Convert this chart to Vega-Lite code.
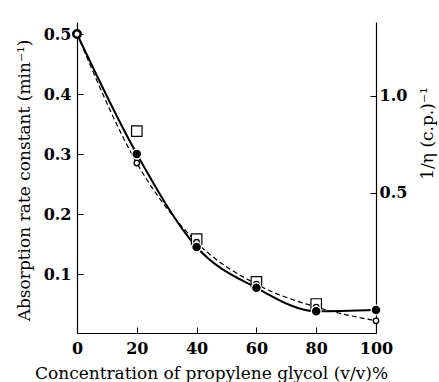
{
  "$schema": "https://vega.github.io/schema/vega-lite/v6.json",
  "width": 299,
  "height": 311,
  "autosize": {"type": "none"},
  "padding": {"left": 77, "top": 22, "right": 63, "bottom": 49},
  "config": {
    "view": {"stroke": null},
    "font": "DejaVu Serif",
    "axis": {
      "domainColor": "black",
      "domainWidth": 1.2,
      "tickColor": "black",
      "tickWidth": 1,
      "grid": false,
      "labelFont": "DejaVu Serif",
      "labelFontSize": 16,
      "labelFontWeight": "bold",
      "labelColor": "black",
      "titleFont": "DejaVu Serif",
      "titleFontSize": 17,
      "titleFontWeight": "normal",
      "titleColor": "black"
    }
  },
  "datasets": {
    "pts": [
      {"x": 0, "y": 0.5, "series": "filled"},
      {"x": 20, "y": 0.3, "series": "filled"},
      {"x": 40, "y": 0.145, "series": "filled"},
      {"x": 60, "y": 0.077, "series": "filled"},
      {"x": 80, "y": 0.038, "series": "filled"},
      {"x": 100, "y": 0.04, "series": "filled"},
      {"x": 20, "y": 0.338, "series": "square"},
      {"x": 40, "y": 0.158, "series": "square"},
      {"x": 60, "y": 0.087, "series": "square"},
      {"x": 80, "y": 0.05, "series": "square"},
      {"x": 0, "y": 0.5, "series": "open"},
      {"x": 20, "y": 0.285, "series": "open"},
      {"x": 40, "y": 0.153, "series": "open"},
      {"x": 60, "y": 0.083, "series": "open"},
      {"x": 80, "y": 0.045, "series": "open"},
      {"x": 100, "y": 0.022, "series": "open"}
    ],
    "right": [{"r": 0.5}, {"r": 1.0}]
  },
  "layer": [
    {
      "data": {"name": "pts"},
      "encoding": {
        "x": {
          "field": "x", "type": "quantitative",
          "scale": {"domain": [0, 100], "nice": false, "zero": false},
          "axis": {
            "values": [0, 20, 40, 60, 80, 100],
            "tickSize": -6,
            "labelPadding": 13,
            "labelFlush": false,
            "title": "Concentration of propylene glycol (v/v)%",
            "titlePadding": 9,
            "titleX": 134,
            "titleAnchor": "middle"
          }
        },
        "y": {
          "field": "y", "type": "quantitative",
          "scale": {"domain": [0.0017, 0.52], "nice": false, "zero": false},
          "axis": {
            "values": [0.1, 0.2, 0.3, 0.4, 0.5],
            "format": ".1f",
            "tickSize": -6,
            "labelPadding": 12,
            "title": "Absorption rate constant (min⁻¹)",
            "titlePadding": 10,
            "titleY": 158
          }
        }
      },
      "layer": [
        {
          "transform": [{"filter": "datum.series == 'filled'"}],
          "mark": {"type": "line", "interpolate": "monotone", "color": "black", "strokeWidth": 2}
        },
        {
          "transform": [{"filter": "datum.series == 'open'"}],
          "mark": {"type": "line", "interpolate": "monotone", "color": "black", "strokeWidth": 1.2, "strokeDash": [5, 3]}
        },
        {
          "transform": [{"filter": "datum.series == 'square'"}],
          "mark": {"type": "point", "shape": "square", "size": 110, "filled": true, "fill": "white", "stroke": "black", "strokeWidth": 1.2, "opacity": 1}
        },
        {
          "transform": [{"filter": "datum.series == 'open' && datum.x > 0"}],
          "mark": {"type": "point", "shape": "circle", "size": 30, "filled": true, "fill": "white", "stroke": "black", "strokeWidth": 1.3, "opacity": 1}
        },
        {
          "transform": [{"filter": "datum.series == 'open' && datum.x == 0"}],
          "mark": {"type": "point", "shape": "circle", "size": 55, "filled": true, "fill": "white", "stroke": "black", "strokeWidth": 2.6, "opacity": 1}
        },
        {
          "transform": [{"filter": "datum.series == 'filled' && datum.x > 0"}],
          "mark": {"type": "point", "shape": "circle", "size": 95, "filled": true, "fill": "black", "stroke": "white", "strokeWidth": 1.2, "opacity": 1}
        }
      ]
    },
    {
      "data": {"name": "right"},
      "mark": {"type": "point", "opacity": 0},
      "encoding": {
        "y": {
          "field": "r", "type": "quantitative",
          "scale": {"domain": [-0.222, 1.381], "nice": false, "zero": false},
          "axis": {
            "orient": "right",
            "values": [0.5, 1.0],
            "format": ".1f",
            "tickSize": -6,
            "labelPadding": 9,
            "title": "1/η (c.p.)⁻¹",
            "titleAngle": 270,
            "titleY": 111,
            "titlePadding": 30
          }
        }
      }
    }
  ],
  "resolve": {"scale": {"y": "independent"}}
}
